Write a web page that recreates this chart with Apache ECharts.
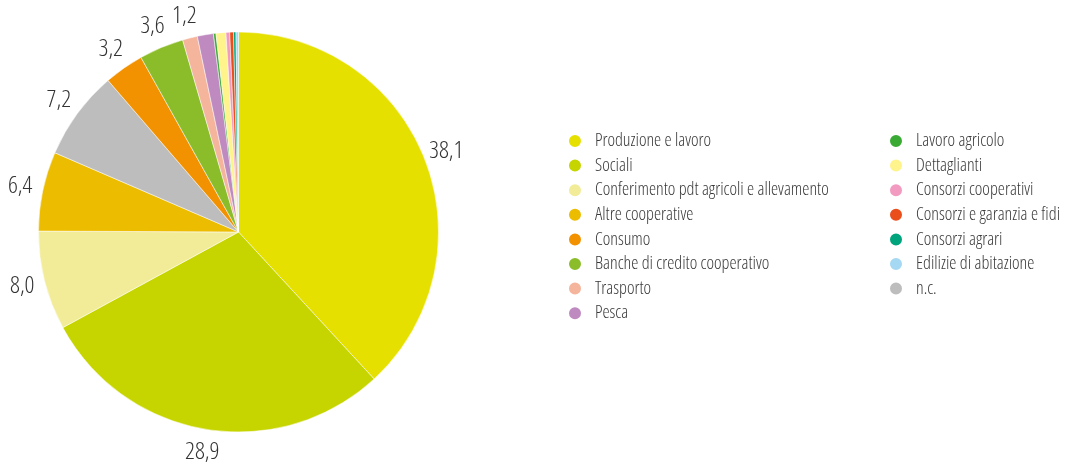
<!DOCTYPE html>
<html>
<head>
<meta charset="utf-8">
<script src="https://cdn.jsdelivr.net/npm/echarts@6/dist/echarts.min.js"></script>
<style>html,body{margin:0;padding:0;background:#fff}#c{width:1067px;height:468px}</style>
</head>
<body>
<div id="c"></div>
<script>
// Slices in drawing order (clockwise from 12 o'clock)
const categories = ["Produzione e lavoro","Sociali","Conferimento pdt agricoli e allevamento","Altre cooperative","n.c.","Consumo","Banche di credito cooperativo","Trasporto","Pesca","Lavoro agricolo","Dettaglianti","Consorzi cooperativi","Consorzi e garanzia e fidi","Consorzi agrari","Edilizie di abitazione"];
const values = [38.1, 28.9, 8.0, 6.4, 7.2, 3.2, 3.6, 1.2, 1.3, 0.2, 0.8, 0.3, 0.3, 0.2, 0.2];
const colors = ["#e6e000","#c6d400","#f2ec98","#ecbc00","#bdbdbd","#f39200","#8bbd2a","#f5b49c","#bf8abf","#3aaa35","#fff38c","#f29ac0","#e94e1b","#00a47c","#a5d8f3"];
const labelled = ["Produzione e lavoro","Sociali","Conferimento pdt agricoli e allevamento","Altre cooperative","n.c.","Consumo","Banche di credito cooperativo","Trasporto"];
const legendCol1 = ["Produzione e lavoro","Sociali","Conferimento pdt agricoli e allevamento","Altre cooperative","Consumo","Banche di credito cooperativo","Trasporto","Pesca"];
const legendCol2 = ["Lavoro agricolo","Dettaglianti","Consorzi cooperativi","Consorzi e garanzia e fidi","Consorzi agrari","Edilizie di abitazione","n.c."];

// choose the narrowest installed sans face (condensed if any is present)
const ctx = document.createElement('canvas').getContext('2d');
const sample = 'Conferimento pdt agricoli e allevamento';
function w(f) { ctx.font = f; return ctx.measureText(sample).width; }
function installed(fam) {
  return w('16px ' + fam + ', monospace') !== w('16px monospace') || w('16px ' + fam + ', serif') !== w('16px serif');
}
const opts = [];
['"DejaVu Sans Condensed"', '"Liberation Sans Narrow"', '"Roboto Condensed"', '"Open Sans Condensed"', '"Noto Sans Condensed"', '"Roboto"', '"Lato"', '"Noto Sans"', '"Open Sans"', '"DejaVu Sans"', '"Liberation Sans"'].forEach(f => {
  if (installed(f)) {
    opts.push({ family: f, style: 'normal', width: w('300 16px ' + f) });
    const c = w('condensed 300 16px ' + f);
    if (c < w('300 16px ' + f) * 0.96) opts.push({ family: f, style: 'condensed', width: c });
  }
});
opts.sort((a, b) => a.width - b.width);
const pick = opts[0] || { family: 'sans-serif', style: 'normal', width: w('16px sans-serif') };
const legendSize = Math.max(12, Math.min(18, 16 * 235 / pick.width));
const labelSize = Math.min(26, legendSize * 1.35);

const data = categories.map((n, i) => ({
  name: n, value: values[i], itemStyle: { color: colors[i] }
}));
const labelData = categories.map((n, i) => ({
  name: n + ' ', value: values[i],
  label: { show: labelled.indexOf(n) >= 0 }
}));
const legendBase = {
  orient: 'vertical', icon: 'circle', itemWidth: 14, itemHeight: 14, itemGap: 6.6,
  textStyle: { fontFamily: pick.family, fontStyle: pick.style, fontWeight: 300, fontSize: legendSize, color: '#3a3a3a', lineHeight: 17, padding: [0,0,0,8] },
  selectedMode: false
};
const chart = echarts.init(document.getElementById('c'), null, { renderer: 'canvas' });
chart.setOption({
  animation: false,
  legend: [
    Object.assign({}, legendBase, { left: 562, top: 127, data: legendCol1 }),
    Object.assign({}, legendBase, { left: 883, top: 127, data: legendCol2 })
  ],
  series: [{
    type: 'pie',
    center: [238.5, 232],
    radius: 200,
    startAngle: 90,
    clockwise: true,
    itemStyle: { borderColor: '#fff', borderWidth: 0.5 },
    label: { show: false },
    labelLine: { show: false },
    emphasis: { disabled: true },
    data: data
  }, {
    // transparent ring carrying the value labels just outside the pie
    type: 'pie',
    center: [238.5, 232],
    radius: [200, 240],
    startAngle: 90,
    clockwise: true,
    silent: true,
    itemStyle: { color: 'rgba(0,0,0,0)' },
    label: {
      position: 'inside', fontFamily: pick.family, fontStyle: pick.style, fontWeight: 300,
      fontSize: labelSize, color: '#333',
      formatter: p => p.value.toFixed(1).replace('.', ',')
    },
    labelLine: { show: false },
    emphasis: { disabled: true },
    data: labelData
  }]
});
</script>
</body>
</html>
